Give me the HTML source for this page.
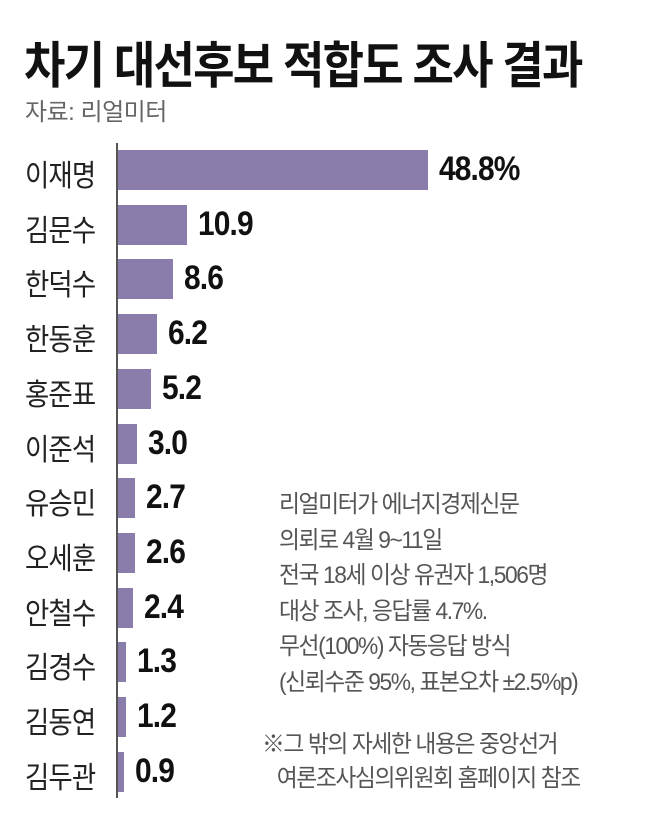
<!DOCTYPE html><html><head><meta charset="utf-8"><style>
body{margin:0;width:650px;height:832px;background:#fff;position:relative;overflow:hidden;font-family:"Liberation Sans","Noto Sans CJK KR",sans-serif}
.a{position:absolute;white-space:nowrap;transform-origin:0 50%}
.t{left:24px;top:26px;font-size:50px;font-weight:bold;color:#111;letter-spacing:-2px;transform:scaleX(0.9)}
.s{left:25px;top:92px;font-size:24px;color:#666;letter-spacing:-0.5px;transform:scaleX(1.0)}
.l{left:25px;font-size:30px;color:#222;letter-spacing:-1px;transform:scaleX(0.88)}
.b{left:118px;height:40px;background:#8b7dab}
.v{font-size:34px;font-weight:bold;color:#111;letter-spacing:-1px;transform:scaleX(0.88)}
.n{left:279px;font-size:24px;color:#555;letter-spacing:-1.5px;line-height:35.5px;transform-origin:0 0;transform:scaleX(0.95)}
</style></head><body>
<div class="a t">차기 대선후보 적합도 조사 결과</div>
<div class="a s">자료: 리얼미터</div>
<div class="a" style="left:116px;top:143px;width:2px;height:655px;background:#555"></div>
<div id="c"></div>
<div class="a n" style="top:487px">리얼미터가 에너지경제신문<br>의뢰로 4월 9~11일<br>전국 18세 이상 유권자 1,506명<br>대상 조사, 응답률 4.7%.<br>무선(100%) 자동응답 방식<br>(신뢰수준 95%, 표본오차 ±2.5%p)</div>
<div class="a n" style="left:262px;top:728px;line-height:34px">※그 밖의 자세한 내용은 중앙선거<br>&nbsp;&nbsp;&nbsp;여론조사심의위원회 홈페이지 참조</div>
<script>
var d=[["이재명",48.8,"48.8%"],["김문수",10.9],["한덕수",8.6],["한동훈",6.2],["홍준표",5.2],["이준석",3.0],["유승민",2.7],["오세훈",2.6],["안철수",2.4],["김경수",1.3],["김동연",1.2],["김두관",0.9]];
var h="";d.forEach(function(r,i){var c=170+i*54.7;var w=r[1]*6.35;
h+='<div class="a l" style="top:'+(c-19)+'px">'+r[0]+'</div>';
h+='<div class="a b" style="top:'+(c-20)+'px;width:'+w+'px"></div>';
h+='<div class="a v" style="left:'+(118+w+11)+'px;top:'+(c-20)+'px">'+(r[2]||r[1].toFixed(1))+'</div>';});
document.getElementById("c").innerHTML=h;
</script>
</body></html>
